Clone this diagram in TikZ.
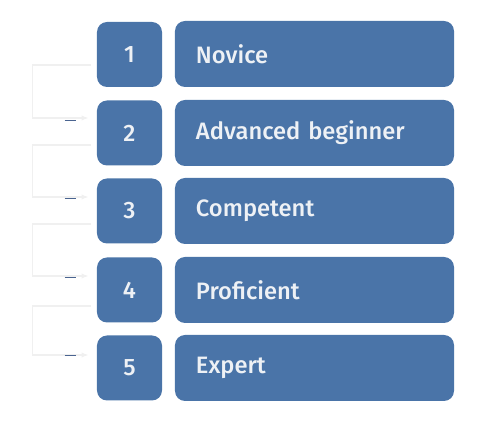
\documentclass[tikz,border=0pt]{standalone}
\usepackage{fontspec}
\setmainfont{Fira Sans}[UprightFont=* Medium]
\usetikzlibrary{arrows.meta}
\definecolor{step-blue}{HTML}{4A74A8}
\definecolor{step-text}{HTML}{EEF1F5}
\definecolor{link-grey}{HTML}{F0F0F0}
\definecolor{link-mark}{HTML}{4A6490}

\begin{document}
\begin{tikzpicture}[
        every node/.style={font=\fontsize{13.5}{16}\selectfont, text=step-text},
        numbox/.style={fill=step-blue, rounded corners=0.2cm,
            minimum width=1.3cm, minimum height=1.3cm, inner sep=0pt},
        levelbox/.style={fill=step-blue, rounded corners=0.2cm,
            text width=4.74cm, inner xsep=0.42cm, minimum height=1.32cm,
            align=left},
        link/.style={draw=link-grey, line width=0.7pt,
            -{Latex[length=4pt,width=3pt]}}]
      \useasboundingbox (0,0) rectangle (9.92,-8.52);
      % numbers
      \node[numbox] (n1) at (2.59,-1.09) {1};
      \node[numbox] (n2) at (2.59,-2.66) {2};
      \node[numbox] (n3) at (2.59,-4.22) {3};
      \node[numbox] (n4) at (2.59,-5.80) {4};
      \node[numbox] (n5) at (2.59,-7.36) {5};
      % levels
      \node[levelbox] (novice) at (6.29,-1.08) {Novice};
      \node[levelbox] (beginner) at (6.29,-2.66) {Advanced beginner};
      \node[levelbox] (competent) at (6.29,-4.22) {Competent};
      \node[levelbox] (proficient) at (6.29,-5.80) {Proficient};
      \node[levelbox] (expert) at (6.29,-7.36) {Expert};
      % links between steps
      \draw[link] ([shift={(-0.12,-0.21)}]n1.west) -- ++(-1.16,0)
            |- ([shift={(-0.16,0.30)}]n2.west);
      \draw[link] ([shift={(-0.12,-0.24)}]n2.west) -- ++(-1.16,0)
            |- ([shift={(-0.16,0.28)}]n3.west);
      \draw[link] ([shift={(-0.12,-0.26)}]n3.west) -- ++(-1.16,0)
            |- ([shift={(-0.16,0.28)}]n4.west);
      \draw[link] ([shift={(-0.12,-0.32)}]n4.west) -- ++(-1.16,0)
            |- ([shift={(-0.16,0.26)}]n5.west);
      % small marks under the arrow ends
      \foreach \n in {n2,n3,n4,n5}
        \draw[link-mark, line width=0.5pt]
            ([shift={(-0.64,0.25)}]\n.west) -- ++(0.22,0);
    \end{tikzpicture}
\end{document}
